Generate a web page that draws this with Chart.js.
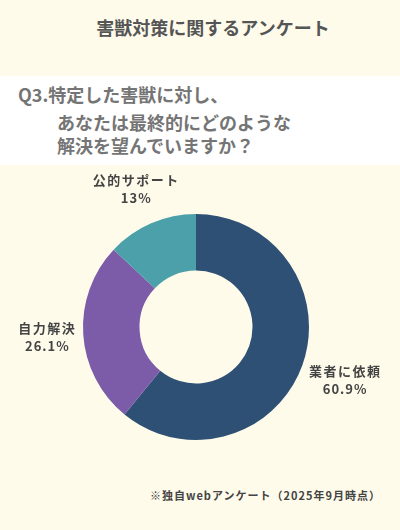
<!DOCTYPE html>
<html>
<head>
<meta charset="utf-8">
<script src="https://cdn.jsdelivr.net/npm/chart.js@4"></script>
<style>
  body { margin: 0; width: 400px; height: 530px; background: #FEFBEB; position: relative; overflow: hidden;
         font-family: "Noto Sans CJK JP", "Noto Sans", sans-serif; }
  #title { position: absolute; top: 14px; left: 0; width: 426px; text-align: center; font-size: 18px;
           font-weight: 700; color: #555; }
  #question { position: absolute; top: 76px; left: 0; width: 400px; height: 89px; background: #fff; }
  #question div { position: absolute; font-size: 18px; font-weight: 700; color: #757575; white-space: nowrap; }
  #chartBox { position: absolute; top: 170px; left: 0; width: 400px; height: 300px; }
  #note { position: absolute; top: 487px; left: 150px; font-size: 11px; font-weight: 700; color: #444;
          letter-spacing: 1px; white-space: nowrap; }
</style>
</head>
<body>
<div id="title">害獣対策に関するアンケート</div>
<div id="question">
  <div style="left:18px;top:5px">Q3.特定した害獣に対し、</div>
  <div style="left:57px;top:33px">あなたは最終的にどのような</div>
  <div style="left:57px;top:56px">解決を望んでいますか？</div>
</div>
<div id="chartBox"><canvas id="stat_chart"></canvas></div>
<div id="note">※独自webアンケート（2025年9月時点）</div>
<script>
const labels = ['業者に依頼', '自力解決', '公的サポート'];
const values = [60.9, 26.1, 13];
const valueTexts = ['60.9%', '26.1%', '13%'];
const colors = ['#2E5074', '#7C5BA9', '#4BA0A9'];

// labels outside each slice, two lines, pushed out by their own box size
const outsideLabels = {
    id: 'outsideLabels',
    afterDatasetsDraw(chart) {
        const ctx = chart.ctx;
        const meta = chart.getDatasetMeta(0);
        const lineGap = 18;
        ctx.save();
        ctx.fillStyle = '#444';
        ctx.font = '700 13px "Noto Sans CJK JP", sans-serif';
        ctx.textAlign = 'center';
        ctx.textBaseline = 'middle';
        meta.data.forEach(function(arc, i) {
            const mid = (arc.startAngle + arc.endAngle) / 2;
            ctx.letterSpacing = '1.5px';
            const w = Math.max(ctx.measureText(labels[i]).width, ctx.measureText(valueTexts[i]).width);
            const h = lineGap + 13;
            const cos = Math.cos(mid), sin = Math.sin(mid);
            const r = arc.outerRadius + 6 + Math.abs(cos) * w / 2 + Math.abs(sin) * h / 2;
            const x = arc.x + cos * r;
            const y = arc.y + sin * r;
            ctx.fillText(labels[i], x, y - lineGap / 2);
            ctx.letterSpacing = '1px';
            ctx.fillText(valueTexts[i], x, y + lineGap / 2);
        });
        ctx.restore();
    }
};

new Chart(document.getElementById('stat_chart'), {
    type: 'doughnut',
    data: {
        labels: labels,
        datasets: [{
            data: values,
            backgroundColor: colors,
            borderWidth: 0
        }]
    },
    options: {
        responsive: true,
        maintainAspectRatio: false,
        animation: false,
        cutout: '50%',
        layout: { padding: { top: 44, bottom: 30, left: 0, right: 8 } },
        plugins: {
            legend: { display: false },
            tooltip: { enabled: false }
        }
    },
    plugins: [outsideLabels]
});
</script>
</body>
</html>
